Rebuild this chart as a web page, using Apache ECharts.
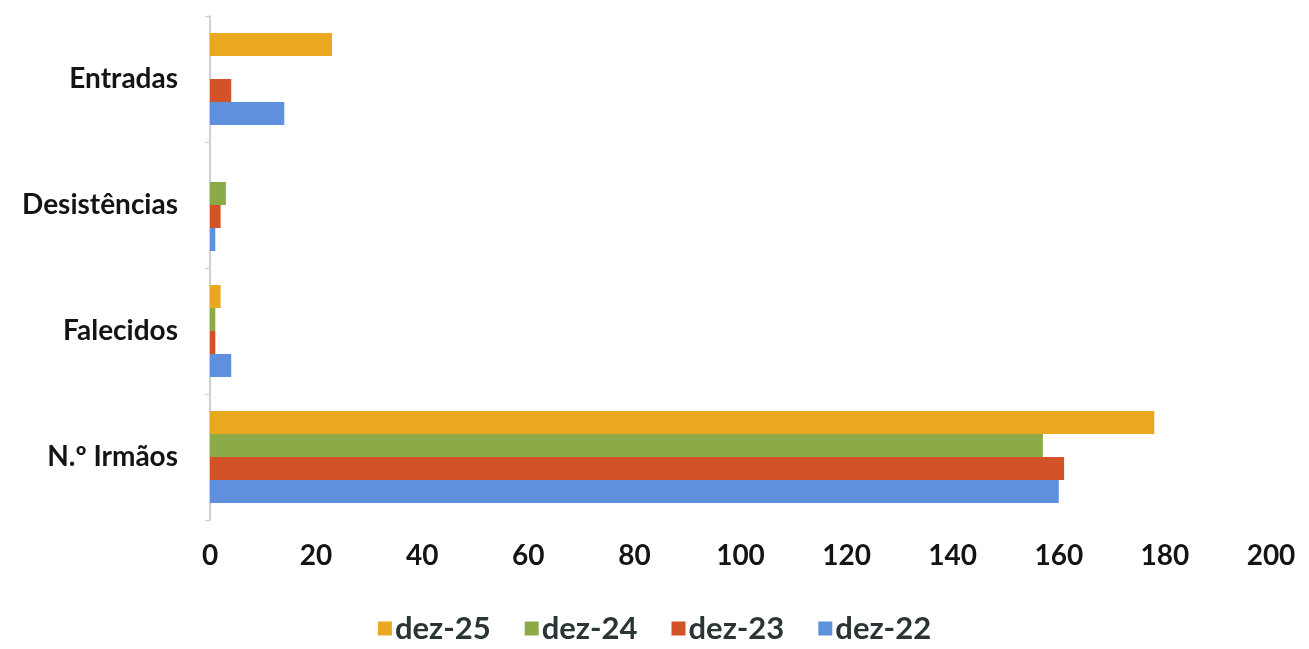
<!DOCTYPE html>
<html><head><meta charset="utf-8">
<script src="https://cdn.jsdelivr.net/npm/echarts@6/dist/echarts.min.js"></script>
<style>html,body{margin:0;padding:0;background:#fff}#c{width:1309px;height:649px}</style>
</head><body><div id="c"></div>
<script>
const categories = ['N.º Irmãos', 'Falecidos', 'Desistências', 'Entradas'];
const dez22 = [160, 4, 1, 14];
const dez23 = [161, 1, 2, 4];
const dez24 = [157, 1, 3, 0];
const dez25 = [178, 2, 0, 23];
const xTicks = { min: 0, max: 200, interval: 20 };
const legendOrder = ['dez-25', 'dez-24', 'dez-23', 'dez-22'];

const font = 'Lato, "Open Sans", sans-serif';
const chart = echarts.init(document.getElementById('c'));
const mk = (name, data, color) => ({
  name, type: 'bar', data, barGap: '0%', barCategoryGap: '27%',
  itemStyle: { color }
});
chart.setOption({
  animation: false,
  grid: { left: 210, right: 38, top: 16, bottom: 129 },
  xAxis: {
    type: 'value', min: xTicks.min, max: xTicks.max, interval: xTicks.interval,
    axisLine: { show: false }, axisTick: { show: false }, splitLine: { show: false },
    axisLabel: { color: '#141414', fontSize: 28, fontFamily: font, fontWeight: 'bold', margin: 22 }
  },
  yAxis: {
    type: 'category', data: categories,
    axisLine: { show: true, lineStyle: { color: '#d0d0d0', width: 2 } },
    axisTick: { show: true, length: 5, lineStyle: { color: '#d0d0d0' } },
    axisLabel: { color: '#141414', fontSize: 28, fontFamily: font, fontWeight: 'bold', margin: 32 }
  },
  legend: {
    data: legendOrder, bottom: 0, left: 'center', itemWidth: 14, itemHeight: 14, itemGap: 34,
    icon: 'rect',
    textStyle: { color: '#2a3535', fontSize: 31, fontFamily: font, fontWeight: 'bold', padding: [0, 0, 0, -2] }
  },
  series: [
    mk('dez-25', dez25, '#E9A820'),
    mk('dez-24', dez24, '#8DAA48'),
    mk('dez-23', dez23, '#D35228'),
    mk('dez-22', dez22, '#5E90DE')
  ]
});
</script></body></html>
